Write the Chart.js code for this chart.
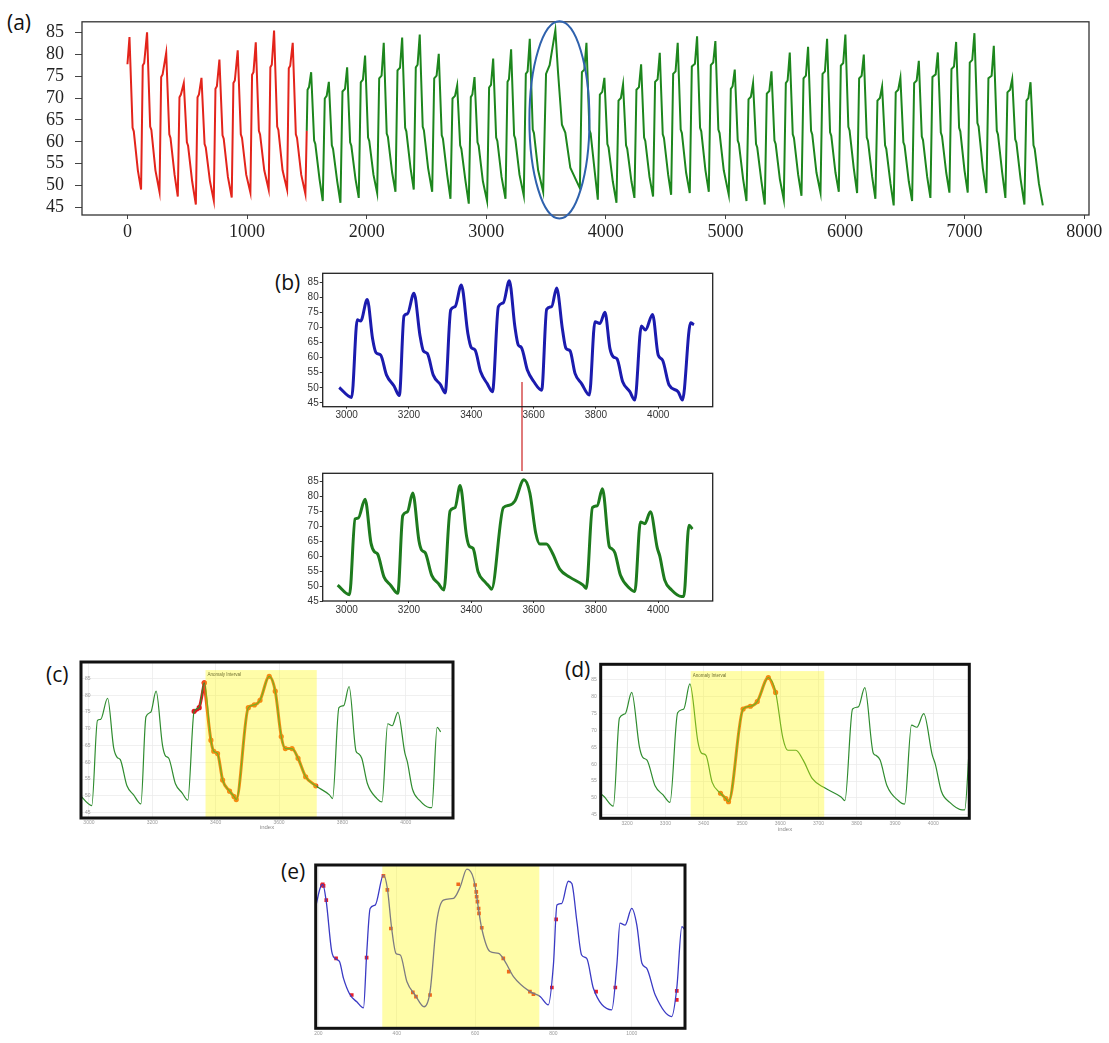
<!DOCTYPE html>
<html>
<head>
<meta charset="utf-8">
<script src="https://cdn.jsdelivr.net/npm/chart.js@4.4.1/dist/chart.umd.min.js"></script>
<style>
  html, body { margin: 0; padding: 0; background: #fff; }
  body { width: 1109px; height: 1043px; position: relative; overflow: hidden; font-family: "Open Sans", "Liberation Sans", sans-serif; }
  canvas { position: absolute; }
  .tag { position: absolute; font-size: 21px; color: #111; line-height: 1; }
  #link { position: absolute; left: 521px; top: 382px; width: 1.5px; height: 89px; background: #e07a7a; }
</style>
</head>
<body>
<div class="tag" style="left:7px;top:12px">(a)</div>
<div class="tag" style="left:275px;top:272px">(b)</div>
<div class="tag" style="left:46px;top:664px">(c)</div>
<div class="tag" style="left:565px;top:659px">(d)</div>
<div class="tag" style="left:281px;top:861px">(e)</div>
<div id="link"></div>

<canvas id="ca" width="1109" height="250" style="left:0;top:0"></canvas>
<canvas id="cb1" width="450" height="165" style="left:270px;top:262px"></canvas>
<canvas id="cb2" width="450" height="165" style="left:270px;top:462px"></canvas>
<canvas id="cc" width="430" height="185" style="left:40px;top:655px"></canvas>
<canvas id="cd" width="430" height="185" style="left:560px;top:655px"></canvas>
<canvas id="ce" width="400" height="188" style="left:300px;top:855px"></canvas>

<script>
// ---- (a) whole record: red = reference part, green = monitored part ----
const aRedX = [
  0, 17, 43, 53, 87, 114,
  128, 140, 164, 190, 200, 234, 268,
  282, 294, 324, 350, 360, 394, 421,
  435, 447, 471, 497, 507, 541, 572,
  586, 598, 619, 645, 655, 690, 722,
  736, 748, 769, 795, 805, 840, 872,
  886, 898, 922, 948, 958, 993, 1028,
  1042, 1054, 1073, 1099, 1109, 1144, 1181,
  1195, 1207, 1226, 1252, 1262, 1297, 1335,
  1349, 1361, 1382, 1408, 1418, 1453, 1488,
  1499
];
const aRedY = [
  77.7, 83.9, 63.2, 62.4, 53.5, 49.1,
  77.4, 78, 85, 63.5, 62.7, 53.5, 48.6,
  74.8, 75.4, 80.3, 61.7, 60.9, 52.5, 47.5,
  70.2, 70.8, 73.4, 59.9, 59.1, 51, 45.7,
  70.2, 70.8, 74.6, 59.5, 58.7, 51, 46.6,
  72.1, 72.7, 78.8, 61.5, 60.7, 52, 47.3,
  73.4, 74, 80.9, 61.7, 60.9, 52.5, 48.4,
  75.3, 75.9, 82.7, 62.5, 61.7, 53.5, 49.1,
  77, 77.6, 85.4, 63.5, 62.7, 53.5, 49.1,
  76.8, 77.4, 82.6, 61.7, 60.9, 52.5, 48.1,
  62.5
];
const aGreenX = [
  1499, 1506, 1518, 1536, 1561, 1571, 1606, 1633,
  1650, 1666, 1684, 1709, 1719, 1754, 1781,
  1798, 1819, 1837, 1862, 1872, 1907, 1934,
  1951, 1969, 1987, 2012, 2022, 2057, 2088,
  2105, 2125, 2143, 2168, 2178, 2213, 2241,
  2258, 2279, 2297, 2322, 2332, 2367, 2394,
  2411, 2426, 2444, 2469, 2479, 2514, 2548,
  2565, 2585, 2603, 2628, 2638, 2673, 2701,
  2718, 2739, 2757, 2782, 2792, 2827, 2854,
  2871, 2884, 2902, 2927, 2937, 2972, 3007,
  3024, 3040, 3058, 3083, 3093, 3128, 3161,
  3178, 3190, 3208, 3233, 3243, 3278, 3314,
  3331, 3346, 3364, 3389, 3399, 3434, 3476,
  3500, 3530, 3578, 3600, 3633, 3661, 3703, 3759, 3783,
  3800, 3820, 3838, 3863, 3873, 3908, 3933,
  3950, 3970, 3988, 4013, 4023, 4058, 4089,
  4106, 4126, 4144, 4169, 4179, 4214, 4239,
  4256, 4277, 4295, 4320, 4330, 4365, 4395,
  4412, 4433, 4451, 4476, 4486, 4521, 4546,
  4563, 4583, 4601, 4626, 4636, 4671, 4702,
  4719, 4745, 4763, 4788, 4798, 4833, 4861,
  4878, 4898, 4916, 4941, 4951, 4986, 5028,
  5045, 5060, 5078, 5103, 5113, 5148, 5176,
  5193, 5213, 5231, 5256, 5266, 5301, 5329,
  5346, 5367, 5385, 5410, 5420, 5455, 5488,
  5505, 5520, 5538, 5563, 5573, 5608, 5636,
  5653, 5673, 5691, 5716, 5726, 5761, 5795,
  5812, 5832, 5850, 5875, 5885, 5920, 5948,
  5965, 5985, 6003, 6028, 6038, 6073, 6101,
  6118, 6139, 6157, 6182, 6192, 6227, 6254,
  6271, 6292, 6310, 6335, 6345, 6380, 6407,
  6424, 6445, 6463, 6488, 6498, 6533, 6561,
  6578, 6599, 6617, 6642, 6652, 6687, 6714,
  6731, 6758, 6776, 6801, 6811, 6846, 6873,
  6890, 6911, 6929, 6954, 6964, 6999, 7026,
  7043, 7064, 7082, 7107, 7117, 7152, 7182,
  7199, 7226, 7244, 7269, 7279, 7314, 7341,
  7358, 7380, 7398, 7423, 7433, 7468, 7500,
  7517, 7533, 7551, 7576, 7586, 7621, 7654
];
const aGreenY = [
  62.5, 71.9, 72.5, 75.9, 60.3, 59.5, 51.5, 46.5,
  69.9, 70.5, 73.7, 59.2, 58.4, 51, 46.1,
  71.5, 72.1, 77, 59.9, 59.1, 51.5, 47.2,
  73.6, 74.2, 79.7, 61, 60.2, 52.5, 48.3,
  74.5, 75.1, 82.6, 61.9, 61.1, 53, 48.6,
  76.3, 76.9, 83.8, 63.2, 62.4, 54, 49.1,
  77, 77.6, 84.5, 63.4, 62.6, 54, 48.6,
  74.5, 75.1, 80.1, 61.5, 60.7, 52.5, 47,
  69.9, 70.5, 72.9, 59.2, 58.4, 51, 45.9,
  70.2, 70.8, 74.8, 59.9, 59.1, 51, 46.5,
  72.4, 73, 79, 61, 60.2, 52, 47,
  73.7, 74.3, 81.1, 61.5, 60.7, 52.5, 47.7,
  75.5, 76.1, 83.5, 62.8, 62, 53.5, 48.6,
  75.5, 77.5, 85.5, 76, 63.9, 62.1, 54.1, 50.8, 49.4,
  75.9, 76.5, 82.6, 62.7, 61.9, 53, 46.8,
  70.8, 71.4, 74.6, 59.5, 58.7, 51, 46.1,
  69.4, 70, 73.1, 59.2, 58.4, 51, 47.2,
  71.9, 72.5, 77.7, 61, 60.2, 52, 47.5,
  73.7, 74.3, 80.3, 61.7, 60.9, 52.5, 47.9,
  75.5, 76.1, 82.6, 62.8, 62, 53, 48.3,
  77.2, 77.8, 84.1, 63.2, 62.4, 53.5, 48.6,
  77.5, 78.1, 83, 62.8, 62, 53.5, 47.9,
  72.1, 72.7, 76.5, 60.3, 59.5, 51.5, 46.5,
  69.7, 70.3, 73.4, 59.5, 58.7, 51, 45.7,
  71, 71.6, 76.1, 60.3, 59.5, 51.5, 46.8,
  73.4, 74, 80.4, 61.7, 60.9, 52.5, 47.7,
  74.5, 75.1, 81.7, 62.5, 61.7, 53, 48.4,
  75.5, 76.1, 83.5, 62.2, 61.4, 53, 48.6,
  77.4, 78, 84.5, 63.4, 62.6, 54, 48.3,
  74.5, 75.1, 79.9, 61, 60.2, 52, 47,
  69.4, 70, 72.6, 59.2, 58.4, 50.5, 45.5,
  71.3, 71.9, 74.6, 59.9, 59.1, 51, 46.5,
  73.4, 74, 78.5, 61.2, 60.4, 52, 47.2,
  74.8, 75.4, 80.4, 62.1, 61.3, 53, 48.4,
  76.6, 77.2, 82.8, 63.2, 62.4, 53.5, 48.4,
  78.1, 78.7, 84.8, 64.3, 63.5, 54, 48.3,
  74.5, 75.1, 81.9, 62.5, 61.7, 53, 47.2,
  71.3, 71.9, 74.3, 60.6, 59.8, 51.5, 45.7,
  69.4, 70, 73.6, 59.2, 58.4, 50.5, 45.5
];
const aXTicks = [0, 1000, 2000, 3000, 4000, 5000, 6000, 7000, 8000];
const aYTicks = [45, 50, 55, 60, 65, 70, 75, 80, 85];
// circled cycle in (a): centre and half-axes in data units
const aRing = { x: 3612, y: 65, rx: 251, ry: 22.5 };

// ---- (b) zoomed window: expected (blue) and observed (green) ----
const bTopX = [
  2976, 3016, 3034, 3045, 3066, 3083, 3094, 3109, 3128, 3152, 3169,
  3184, 3195, 3216, 3235, 3246, 3259, 3278, 3302, 3316,
  3334, 3348, 3368, 3389, 3400, 3412, 3430, 3451, 3468,
  3487, 3503, 3522, 3540, 3551, 3561, 3580, 3601, 3626,
  3642, 3658, 3674, 3693, 3704, 3717, 3733, 3754, 3779,
  3797, 3813, 3829, 3845, 3856, 3868, 3886, 3909, 3925,
  3946, 3959, 3982, 4000, 4014, 4035, 4064, 4078,
  4104, 4115
];
const bTopY = [
  50.1, 46.8, 72.6, 72.2, 79.4, 66.4, 61.7, 60.9, 54.2, 50.6, 47.4,
  73.9, 74.6, 81.5, 67.6, 62.3, 61.4, 54.2, 50.9, 48.3,
  75.9, 77, 84.2, 68.1, 63.4, 62.6, 55.3, 51.4, 48.7,
  77, 78.3, 85.6, 70.3, 64.2, 63.4, 55.9, 52, 49.2,
  76.1, 77, 83.2, 69.2, 63.1, 62.3, 54.8, 51.4, 47.6,
  72, 71.4, 75.1, 63.1, 60.3, 59.6, 52, 48.7, 45.9,
  70.6, 69.2, 74.4, 60.9, 59.2, 50.9, 48.7, 45.9,
  71.6, 71
];
const bBotX = [
  2971, 3009, 3027, 3037, 3059, 3078, 3089, 3099, 3120, 3141, 3164,
  3180, 3195, 3212, 3232, 3241, 3252, 3273, 3294, 3312,
  3332, 3348, 3364, 3385, 3394, 3406, 3422, 3444, 3458, 3465,
  3503, 3522, 3540, 3569, 3588, 3607, 3620, 3641, 3660, 3684, 3716, 3759, 3769,
  3789, 3804, 3821, 3843, 3850, 3861, 3879, 3909, 3925,
  3943, 3957, 3975, 3997, 4005, 4021, 4043, 4075, 4082,
  4099, 4110
];
const bBotY = [
  50.3, 47.1, 72.5, 72.8, 79.1, 64.4, 61.5, 60.8, 53, 50.3, 47.6,
  73.6, 74.9, 81.2, 65.2, 62, 61.2, 53.6, 50.9, 48.7,
  75.2, 76.3, 83.7, 66.6, 63.3, 62.6, 54.7, 51.4, 49.8, 48.9,
  76.3, 77.1, 78.5, 85.6, 81.2, 67.7, 64.1, 64.1, 61.2, 55.7, 53, 50.3, 49.2,
  76.3, 76.9, 82.6, 63.3, 62.6, 61.2, 53.6, 49.2, 48.2,
  71.5, 70.9, 74.9, 62.8, 60.1, 52, 48.7, 46.5, 46.5,
  70.4, 69.1
];
const bXTicks = [3000, 3200, 3400, 3600, 3800, 4000];
const bYTicks = [45, 50, 55, 60, 65, 70, 75, 80, 85];

// ---- (c) / (d) detected anomaly intervals on the observed signal ----
const cXTicks = [3000, 3200, 3400, 3600, 3800, 4000];
const cYTicks = [45, 50, 55, 60, 65, 70, 75, 80, 85];
const cRedSpan = [3332, 3364];
const cAnomSpan = [3364, 3716];
const cBox = [3368, 3719];
const dXTicks = [3200, 3300, 3400, 3500, 3600, 3700, 3800, 3900, 4000];
const dYTicks = [45, 50, 55, 60, 65, 70, 75, 80, 85];
const dAnomSpan = [3444, 3588];
const dBox = [3366, 3715];

// ---- (e) re-indexed window with flagged samples ----
const eX = [
  194, 204, 211, 220, 234, 245, 254, 264, 281, 298, 315,
  323, 332, 345, 366, 376, 387, 398, 409, 426, 447, 470,
  485, 502, 519, 545, 562, 579, 596, 617, 638, 660, 677, 698, 740, 766, 787,
  800, 809, 821, 838, 847, 860, 872, 885, 902, 949,
  962, 970, 983, 1000, 1013, 1026, 1038, 1060, 1102,
  1115, 1128, 1136
];
const eY = [
  76, 80.4, 81.5, 76.9, 63.7, 61.7, 61, 56.6, 52.2, 50.4, 48.8,
  62.8, 75.1, 76, 83.9, 80.4, 69.8, 63.2, 62.8, 55.7, 52.2, 49.1,
  53.1, 71.6, 77.3, 77.8, 80.8, 85.5, 83, 69.8, 63.7, 63.2, 61, 57.1, 53.1, 51.8, 49.6,
  60.2, 76, 76.4, 82.3, 81.7, 71.6, 62.8, 61.9, 54, 48.3,
  60.2, 71.2, 70.7, 75.1, 70.7, 60.6, 59.3, 52.2, 46.5,
  54, 70.3, 69.4
];
const eMarkX = [209, 211, 213, 220, 245, 285, 323, 366, 376, 385, 441, 449, 485, 557,
  600, 603, 604, 606, 609, 610, 617, 672, 686, 740, 749, 796, 807, 909, 958, 1115, 1115];
const eMarkY = [81.2, 81.5, 81.1, 77.3, 61.9, 52.2, 62.1, 83.7, 80, 69.8, 52.9, 51.8, 52.2, 81.5,
  81.3, 79.5, 78.2, 76.9, 75.1, 73.8, 70, 61.9, 58.4, 53.1, 52.4, 54.2, 72.2, 53.1, 54.2, 53.3, 50.9];
const eXTicks = [200, 400, 600, 800, 1000];
const eBox = [363, 764];

const SERIF = '"Liberation Serif", "DejaVu Serif", serif';
const SANS = '"Liberation Sans", Arial, sans-serif';

const pts = (xs, ys) => xs.map((x, i) => ({ x: x, y: ys[i] }));
const span = (xs, ys, s) => pts(xs, ys).filter(p => p.x >= s[0] && p.x <= s[1]);
const fix = (size) => (s) => { if (s.isHorizontal()) s.height = size; else s.width = size; };
const useTicks = (list) => (s) => { s.ticks = list.map(v => ({ value: v })); };

// border round the plot area
const frame = {
  id: 'frame',
  afterDraw(chart, args, o) {
    const { ctx, chartArea: a } = chart;
    ctx.save();
    ctx.strokeStyle = o.color;
    ctx.lineWidth = o.width;
    ctx.strokeRect(a.left, a.top, a.right - a.left, a.bottom - a.top);
    ctx.restore();
  }
};

// translucent yellow anomaly window, laid over the traces
const anomaly = {
  id: 'anomaly',
  afterDatasetsDraw(chart, args, o) {
    const { ctx, chartArea: a, scales: { x, y } } = chart;
    const l = x.getPixelForValue(o.from);
    const r = x.getPixelForValue(o.to);
    const t = Math.max(a.top, y.getPixelForValue(o.top));
    ctx.save();
    ctx.fillStyle = 'rgba(255, 250, 0, 0.34)';
    ctx.fillRect(l, t, r - l, a.bottom - t);
    if (o.label) {
      ctx.font = '4.5px ' + SANS;
      ctx.fillStyle = '#707030';
      ctx.textBaseline = 'top';
      ctx.fillText(o.label, l + 2, t + 2);
    }
    ctx.restore();
  }
};

// ellipse marking the odd cycle in (a)
const ring = {
  id: 'ring',
  afterDraw(chart, args, o) {
    const { ctx, scales: { x, y } } = chart;
    const cx = x.getPixelForValue(o.x);
    const cy = y.getPixelForValue(o.y);
    const rx = x.getPixelForValue(o.x + o.rx) - cx;
    const ry = cy - y.getPixelForValue(o.y + o.ry);
    ctx.save();
    ctx.strokeStyle = '#2f62ad';
    ctx.lineWidth = 2;
    ctx.beginPath();
    ctx.ellipse(cx, cy, rx, ry, 0, 0, Math.PI * 2);
    ctx.stroke();
    ctx.restore();
  }
};

const base = {
  responsive: false,
  animation: false,
  events: [],
  plugins: { legend: { display: false }, tooltip: { enabled: false } }
};

// (a)
new Chart(document.getElementById('ca'), {
  type: 'line',
  data: {
    datasets: [
      { data: pts(aRedX, aRedY), borderColor: '#e3241b', borderWidth: 2, pointRadius: 0, tension: 0 },
      { data: pts(aGreenX, aGreenY), borderColor: '#1d861d', borderWidth: 2, pointRadius: 0, tension: 0 }
    ]
  },
  options: {
    ...base,
    layout: { padding: { top: 12, right: 20, left: 0, bottom: 0 } },
    plugins: { ...base.plugins, frame: { color: '#333', width: 1.3 }, ring: aRing },
    scales: {
      x: {
        type: 'linear', min: -380, max: 8040,
        afterFit: fix(35), afterBuildTicks: useTicks(aXTicks),
        grid: { drawOnChartArea: false, tickLength: 4, color: '#444' },
        border: { display: false },
        ticks: { font: { family: SERIF, size: 18 }, color: '#222', padding: 2, maxRotation: 0, autoSkip: false, callback: v => String(v) }
      },
      y: {
        min: 43.3, max: 87.4,
        afterFit: fix(82), afterBuildTicks: useTicks(aYTicks),
        grid: { drawOnChartArea: false, tickLength: 7, color: '#444' },
        border: { display: false },
        ticks: { font: { family: SERIF, size: 18 }, color: '#222', padding: 11, autoSkip: false }
      }
    }
  },
  plugins: [frame, ring]
});

// (b) shared axis styling
function bScales(yMin, yMax, xH) {
  return {
    x: {
      type: 'linear', min: 2923, max: 4175,
      afterFit: fix(xH), afterBuildTicks: useTicks(bXTicks),
      grid: { drawOnChartArea: false, tickLength: 2, color: '#333' },
      border: { display: false },
      ticks: { font: { family: SANS, size: 10 }, color: '#333', padding: 1, maxRotation: 0, autoSkip: false, callback: v => String(v) }
    },
    y: {
      min: yMin, max: yMax,
      afterFit: fix(52.7), afterBuildTicks: useTicks(bYTicks),
      grid: { drawOnChartArea: false, tickLength: 3, color: '#333' },
      border: { display: false },
      ticks: { font: { family: SANS, size: 10 }, color: '#333', padding: 1, autoSkip: false }
    }
  };
}

new Chart(document.getElementById('cb1'), {
  type: 'line',
  data: { datasets: [{ data: pts(bTopX, bTopY), borderColor: '#1b1bae', borderWidth: 3, pointRadius: 0, cubicInterpolationMode: 'monotone' }] },
  options: {
    ...base,
    layout: { padding: { top: 11.3, right: 7.3, left: 0, bottom: 0 } },
    plugins: { ...base.plugins, frame: { color: '#222', width: 1.3 } },
    scales: bScales(43.7, 88.1, 20.3)
  },
  plugins: [frame]
});

new Chart(document.getElementById('cb2'), {
  type: 'line',
  data: { datasets: [{ data: pts(bBotX, bBotY), borderColor: '#1e7b1e', borderWidth: 3, pointRadius: 0, cubicInterpolationMode: 'monotone' }] },
  options: {
    ...base,
    layout: { padding: { top: 11.3, right: 7.3, left: 0, bottom: 0 } },
    plugins: { ...base.plugins, frame: { color: '#222', width: 1.3 } },
    scales: bScales(45, 87.8, 26)
  },
  plugins: [frame]
});

// (c) / (d) / (e) light plotly-like axes
function lightX(min, max, list, h, title, tb) {
  return {
    type: 'linear', min: min, max: max,
    afterFit: fix(h), afterBuildTicks: useTicks(list),
    grid: { color: '#ececec', lineWidth: 0.8, drawTicks: false },
    border: { display: false },
    title: { display: !!title, text: title, color: '#8a8a8a', font: { family: SANS, size: 6 }, padding: { top: 0, bottom: tb } },
    ticks: { font: { family: SANS, size: 5 }, color: '#9a9a9a', padding: 2, maxRotation: 0, autoSkip: false, callback: v => String(v) }
  };
}

new Chart(document.getElementById('cc'), {
  type: 'line',
  data: {
    datasets: [
      { data: pts(bBotX, bBotY), borderColor: '#2f8c2f', borderWidth: 1.2, pointRadius: 0, cubicInterpolationMode: 'monotone' },
      { data: span(bBotX, bBotY, cAnomSpan), borderColor: '#f0521c', backgroundColor: '#f0521c', borderWidth: 3, pointRadius: 1.1, cubicInterpolationMode: 'monotone' },
      { data: span(bBotX, bBotY, cRedSpan), borderColor: '#e0141c', backgroundColor: '#e0141c', borderWidth: 3, pointRadius: 1.1, cubicInterpolationMode: 'monotone' }
    ]
  },
  options: {
    ...base,
    layout: { padding: { top: 7, right: 17, left: 0, bottom: 0 } },
    plugins: { ...base.plugins, frame: { color: '#111', width: 3 }, anomaly: { from: cBox[0], to: cBox[1], top: 87.5, label: 'Anomaly Interval' } },
    scales: {
      x: lightX(2975, 4149, cXTicks, 22, 'index', 9),
      y: {
        min: 43.4, max: 89.9,
        afterFit: fix(41), afterBuildTicks: useTicks(cYTicks),
        grid: { color: '#ececec', lineWidth: 0.8, drawTicks: false },
        border: { display: false },
        ticks: { mirror: true, font: { family: SANS, size: 5 }, color: '#9a9a9a', padding: 4, autoSkip: false }
      }
    }
  },
  plugins: [anomaly, frame]
});

new Chart(document.getElementById('cd'), {
  type: 'line',
  data: {
    datasets: [
      { data: pts(bBotX, bBotY), borderColor: '#2f8c2f', borderWidth: 1.2, pointRadius: 0, cubicInterpolationMode: 'monotone' },
      { data: span(bBotX, bBotY, dAnomSpan), borderColor: '#f0521c', backgroundColor: '#f0521c', borderWidth: 3, pointRadius: 1.1, cubicInterpolationMode: 'monotone' }
    ]
  },
  options: {
    ...base,
    layout: { padding: { top: 9.3, right: 20.7, left: 0, bottom: 0 } },
    plugins: { ...base.plugins, frame: { color: '#111', width: 3 }, anomaly: { from: dBox[0], to: dBox[1], top: 87.5, label: 'Anomaly Interval' } },
    scales: {
      x: lightX(3131, 4094, dXTicks, 21.7, 'index', 7),
      y: {
        min: 44, max: 89.5,
        afterFit: fix(40.7), afterBuildTicks: useTicks(dYTicks),
        grid: { color: '#ececec', lineWidth: 0.8, drawTicks: false },
        border: { display: false },
        ticks: { font: { family: SANS, size: 5 }, color: '#9a9a9a', padding: 4, autoSkip: false }
      }
    }
  },
  plugins: [anomaly, frame]
});

new Chart(document.getElementById('ce'), {
  type: 'line',
  data: {
    datasets: [
      { data: pts(eX, eY), borderColor: '#3a3ac4', borderWidth: 1.3, pointRadius: 0, cubicInterpolationMode: 'monotone' },
      { data: pts(eMarkX, eMarkY), showLine: false, pointStyle: 'rect', pointRadius: 2.6, borderWidth: 0, backgroundColor: '#e8202a' }
    ]
  },
  options: {
    ...base,
    layout: { padding: { top: 10, right: 15, left: 15.7, bottom: 0 } },
    plugins: { ...base.plugins, frame: { color: '#111', width: 3 }, anomaly: { from: eBox[0], to: eBox[1], top: 86.6 } },
    scales: {
      x: lightX(193, 1136, eXTicks, 14.7, '', 0),
      y: { display: false, min: 43.4, max: 86.6, grid: { display: false } }
    }
  },
  plugins: [anomaly, frame]
});
</script>
</body>
</html>
